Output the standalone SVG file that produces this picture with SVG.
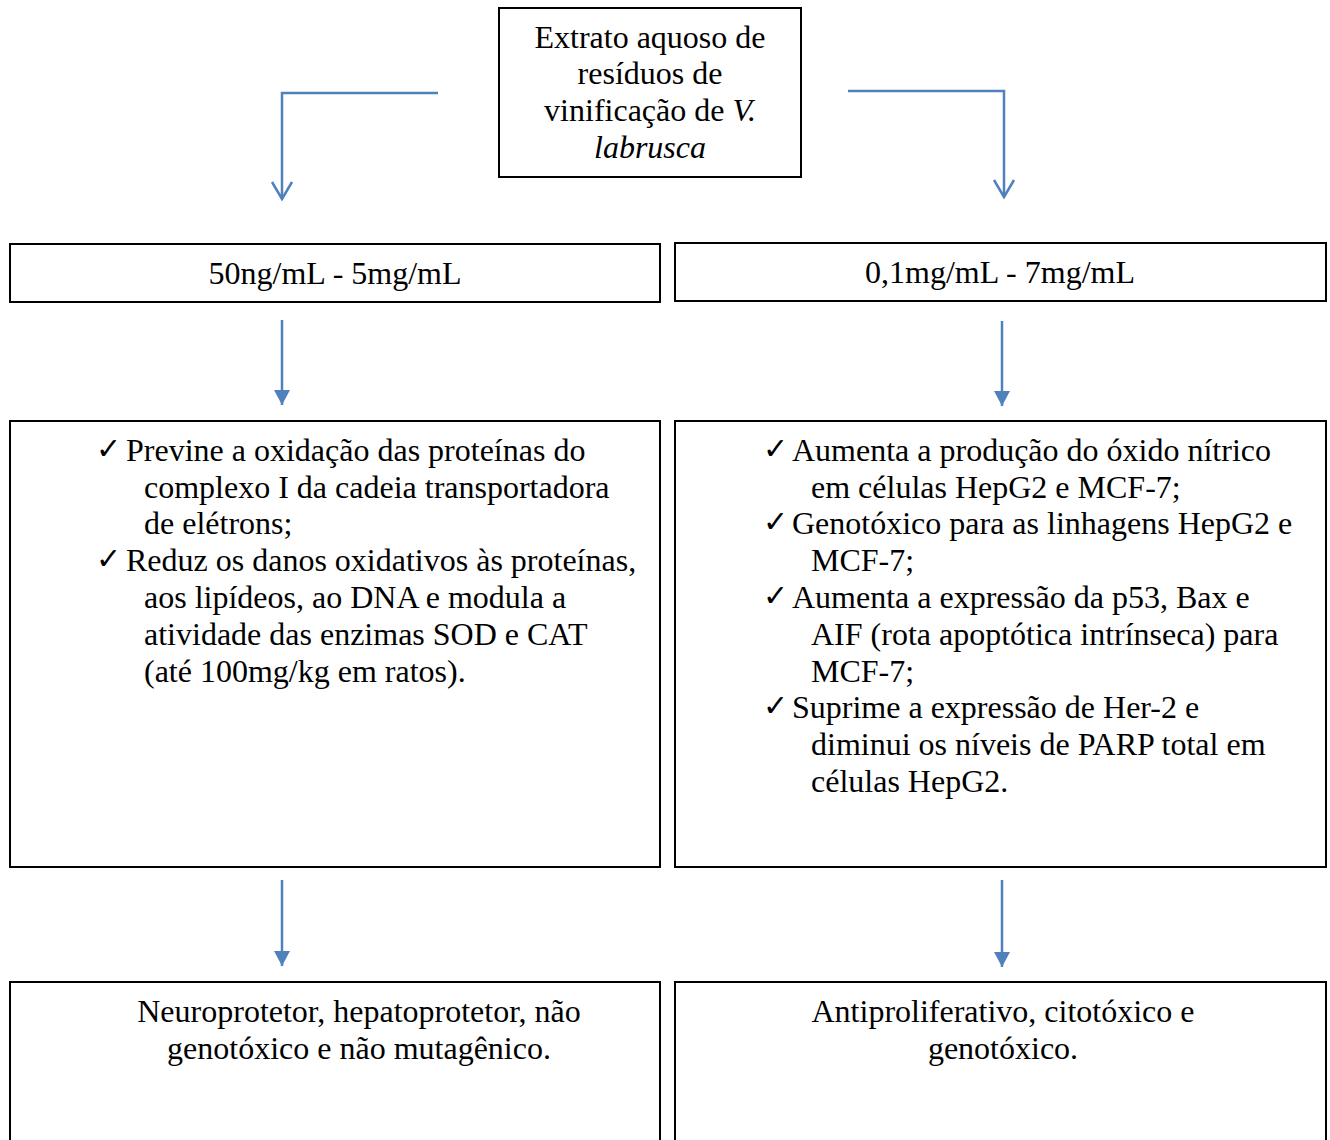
<svg xmlns="http://www.w3.org/2000/svg" width="1330" height="1140" viewBox="0 0 1330 1140">
<style>
.box{fill:#fff;stroke:#000;stroke-width:2}
.t{font-family:"Liberation Serif","Times New Roman",serif;font-size:32px;fill:#000}
.c{text-anchor:middle}
.ck{font-family:"DejaVu Sans",sans-serif;font-size:30px;fill:#000}
.ln{fill:none;stroke:#4F81BD;stroke-width:2.5}
</style>
<defs>
<marker id="open" markerWidth="22" markerHeight="24" refX="18" refY="11" orient="auto" markerUnits="userSpaceOnUse" viewBox="0 0 22 22">
<path d="M1,1 L18,11 L1,21" fill="none" stroke="#4F81BD" stroke-width="2.5"/>
</marker>
<marker id="fill" markerWidth="16" markerHeight="16" refX="15" refY="8" orient="auto" markerUnits="userSpaceOnUse" viewBox="0 0 16 16">
<path d="M0,0 L15,8 L0,16 Z" fill="#4F81BD"/>
</marker>
</defs>
<g id="connectors">
<polyline class="ln" points="438,93 282,93 282,199" marker-end="url(#open)"/>
<polyline class="ln" points="848,91 1004,91 1004,197" marker-end="url(#open)"/>
<line class="ln" x1="282" y1="320" x2="282" y2="405" marker-end="url(#fill)"/>
<line class="ln" x1="1002" y1="321" x2="1002" y2="406" marker-end="url(#fill)"/>
<line class="ln" x1="282" y1="880" x2="282" y2="966" marker-end="url(#fill)"/>
<line class="ln" x1="1002" y1="880" x2="1002" y2="967" marker-end="url(#fill)"/>
</g>
<g id="node-top">
<rect class="box" x="499" y="8" width="302" height="169"/>
<text class="t c" x="650" y="48">Extrato aquoso de</text>
<text class="t c" x="650" y="84">resíduos de</text>
<text class="t c" x="650" y="121">vinificação de <tspan font-style="italic">V.</tspan></text>
<text class="t c" x="650" y="158" font-style="italic">labrusca</text>
</g>
<g id="node-dose-left">
<rect class="box" x="10" y="244" width="650" height="58"/>
<text class="t c" x="335" y="284">50ng/mL - 5mg/mL</text>
</g>
<g id="node-dose-right">
<rect class="box" x="675" y="243" width="651" height="58"/>
<text class="t c" x="1000" y="283">0,1mg/mL - 7mg/mL</text>
</g>
<g id="node-effects-left">
<rect class="box" x="10" y="421" width="650" height="446"/>
<text class="ck" x="96" y="459">✓</text>
<text class="t" x="126" y="461">Previne a oxidação das proteínas do</text>
<text class="t" x="144" y="498">complexo I da cadeia transportadora</text>
<text class="t" x="144" y="534">de elétrons;</text>
<text class="ck" x="96" y="569">✓</text>
<text class="t" x="126" y="571">Reduz os danos oxidativos às proteínas,</text>
<text class="t" x="144" y="608">aos lipídeos, ao DNA e modula a</text>
<text class="t" x="144" y="645">atividade das enzimas SOD e CAT</text>
<text class="t" x="144" y="682">(até 100mg/kg em ratos).</text>
</g>
<g id="node-effects-right">
<rect class="box" x="675" y="421" width="651" height="446"/>
<text class="ck" x="763" y="459">✓</text>
<text class="t" x="792" y="461">Aumenta a produção do óxido nítrico</text>
<text class="t" x="811" y="498">em células HepG2 e MCF-7;</text>
<text class="ck" x="763" y="532">✓</text>
<text class="t" x="792" y="534">Genotóxico para as linhagens HepG2 e</text>
<text class="t" x="811" y="571">MCF-7;</text>
<text class="ck" x="763" y="606">✓</text>
<text class="t" x="792" y="608">Aumenta a expressão da p53, Bax e</text>
<text class="t" x="811" y="645">AIF (rota apoptótica intrínseca) para</text>
<text class="t" x="811" y="682">MCF-7;</text>
<text class="ck" x="763" y="716">✓</text>
<text class="t" x="792" y="718">Suprime a expressão de Her-2 e</text>
<text class="t" x="811" y="755">diminui os níveis de PARP total em</text>
<text class="t" x="811" y="792">células HepG2.</text>
</g>
<g id="node-outcome-left">
<rect class="box" x="10" y="982" width="650" height="170"/>
<text class="t c" x="359" y="1022">Neuroprotetor, hepatoprotetor, não</text>
<text class="t c" x="359" y="1059">genotóxico e não mutagênico.</text>
</g>
<g id="node-outcome-right">
<rect class="box" x="675" y="982" width="651" height="170"/>
<text class="t c" x="1003" y="1022">Antiproliferativo, citotóxico e</text>
<text class="t c" x="1003" y="1059">genotóxico.</text>
</g>
</svg>
